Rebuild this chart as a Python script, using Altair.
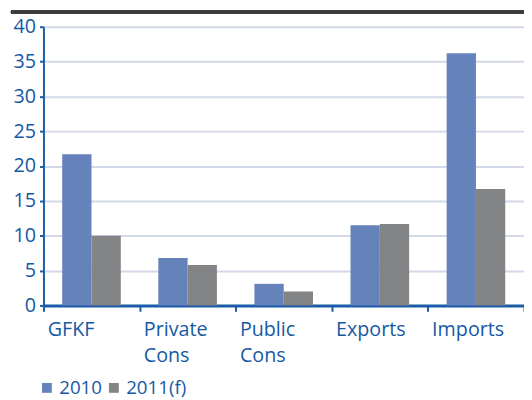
import altair as alt
import pandas as pd

categories = ["GFKF", "Private Cons", "Public Cons", "Exports", "Imports"]
series = ["2010", "2011(f)"]
values_2010 = [21.7, 6.8, 3.1, 11.5, 36.2]
values_2011 = [10.0, 5.8, 2.0, 11.7, 16.7]
y_ticks = [0, 5, 10, 15, 20, 25, 30, 35, 40]

rows = []
for c, a, b in zip(categories, values_2010, values_2011):
    rows.append({"category": c, "series": series[0], "value": a})
    rows.append({"category": c, "series": series[1], "value": b})
df = pd.DataFrame(rows)

TEXT = "#1658a4"
AXIS = "#1b5ba7"
FONT = "Open Sans"

bars = alt.Chart(df).mark_bar().encode(
    x=alt.X(
        "category:N",
        sort=categories,
        scale=alt.Scale(paddingInner=0, paddingOuter=0),
        axis=alt.Axis(
            title=None,
            domain=True,
            domainColor=AXIS,
            domainWidth=3,
            grid=False,
            tickBand="extent",
            tickColor=AXIS,
            tickWidth=2,
            tickSize=6,
            labelAngle=0,
            labelFont=FONT,
            labelFontSize=20,
            labelColor=TEXT,
            labelPadding=9,
            labelLineHeight=26,
            labelBaseline="top",
            labelAlign="left",
            labelOffset=-45,
            labelExpr="split(datum.label, ' ')",
        ),
    ),
    xOffset=alt.XOffset("series:N", sort=series, scale=alt.Scale(paddingOuter=0.64, paddingInner=0)),
    y=alt.Y(
        "value:Q",
        scale=alt.Scale(domain=[0, 40], nice=False),
        axis=alt.Axis(
            title=None,
            values=y_ticks,
            grid=True,
            gridColor="#d3d8ea",
            gridWidth=2,
            domainColor=AXIS,
            domainWidth=2,
            tickColor=AXIS,
            tickWidth=2,
            tickSize=4,
            labelFont=FONT,
            labelFontSize=20,
            labelColor=TEXT,
            labelPadding=4,
        ),
    ),
    color=alt.Color(
        "series:N",
        sort=series,
        scale=alt.Scale(domain=series, range=["#6682bb", "#838486"]),
        legend=alt.Legend(
            title=None,
            orient="none",
            direction="horizontal",
            legendX=-6,
            legendY=357,
            symbolType="square",
            symbolSize=100,
            symbolStrokeWidth=0,
            symbolOpacity=1,
            labelFont=FONT,
            labelFontSize=19,
            labelColor=TEXT,
            labelOffset=3,
            columnPadding=2,
        ),
    ),
)

top_line = alt.Chart(df).mark_rule(color="#3a3a3a", strokeWidth=2.5).encode(
    x=alt.value(-33), x2=alt.value(490), y=alt.value(-15)
)

chart = alt.layer(bars, top_line).properties(
    width=488,
    height=283,
    autosize=alt.AutoSizeParams(type="none"),
    padding={"left": 36, "top": 16, "right": 0, "bottom": 92},
).configure_view(stroke=None).configure(background="white")

chart.save("out.html", embed_options={"renderer": "svg", "actions": False})
